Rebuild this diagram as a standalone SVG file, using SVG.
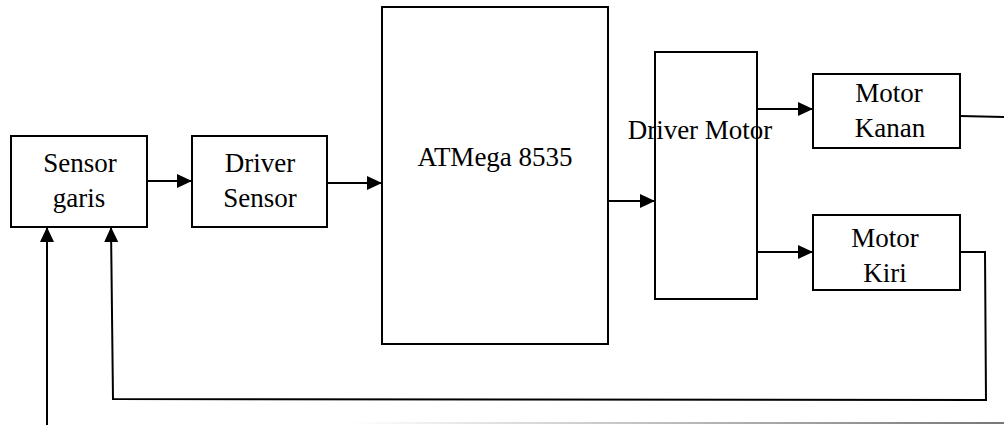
<svg xmlns="http://www.w3.org/2000/svg" width="1004" height="425" viewBox="0 0 1004 425">
<style>
.box{fill:#fff;stroke:#000;stroke-width:2}
.ln{fill:none;stroke:#000;stroke-width:2}
.t{font-family:'Liberation Serif','Times New Roman',serif;font-size:27px;fill:#000;text-anchor:middle}
</style>
<defs>
<marker id="ah" markerWidth="15" markerHeight="14" refX="15" refY="7" orient="auto" markerUnits="userSpaceOnUse">
<path d="M0,0 L15,7 L0,14 Z" fill="#000"/>
</marker>
<linearGradient id="fade" x1="0" x2="1" y1="0" y2="0">
<stop offset="0" stop-color="#fff"/>
<stop offset="1" stop-color="#777"/>
</linearGradient>
</defs>
<rect x="350" y="422" width="654" height="2" fill="url(#fade)"/>
<g id="sensor-garis">
<rect class="box" x="11" y="136" width="136" height="91"/>
<text class="t" x="80" y="172">Sensor</text>
<text class="t" x="79" y="207">garis</text>
</g>
<g id="driver-sensor">
<rect class="box" x="192" y="136" width="135" height="91"/>
<text class="t" x="260" y="172">Driver</text>
<text class="t" x="260" y="207">Sensor</text>
</g>
<g id="atmega">
<rect class="box" x="382" y="7" width="226" height="337"/>
<text class="t" x="495" y="166">ATMega 8535</text>
</g>
<g id="driver-motor">
<rect class="box" x="655" y="52" width="102" height="247"/>
</g>
<g id="motor-kanan">
<rect class="box" x="813" y="74" width="147" height="74"/>
<text class="t" x="889" y="102">Motor</text>
<text class="t" x="890" y="137">Kanan</text>
</g>
<g id="motor-kiri">
<rect class="box" x="813" y="215" width="147" height="75"/>
<text class="t" x="885" y="247">Motor</text>
<text class="t" x="885" y="282">Kiri</text>
</g>
<g id="driver-motor-label">
<text class="t" x="700" y="139">Driver Motor</text>
</g>
<g id="connectors">
<line class="ln" x1="147" y1="181" x2="192" y2="181" marker-end="url(#ah)"/>
<line class="ln" x1="327" y1="183" x2="382" y2="183" marker-end="url(#ah)"/>
<line class="ln" x1="608" y1="201" x2="655" y2="201" marker-end="url(#ah)"/>
<line class="ln" x1="757" y1="109" x2="813" y2="109" marker-end="url(#ah)"/>
<line class="ln" x1="757" y1="252" x2="813" y2="252" marker-end="url(#ah)"/>
<line class="ln" x1="960" y1="116" x2="1004" y2="117"/>
<polyline class="ln" points="960,252 985,252 986,401"/>
<polyline class="ln" points="986,400 113,399 111,227" marker-end="url(#ah)"/>
<line class="ln" x1="47" y1="425" x2="47" y2="227" marker-end="url(#ah)"/>
</g>
</svg>
